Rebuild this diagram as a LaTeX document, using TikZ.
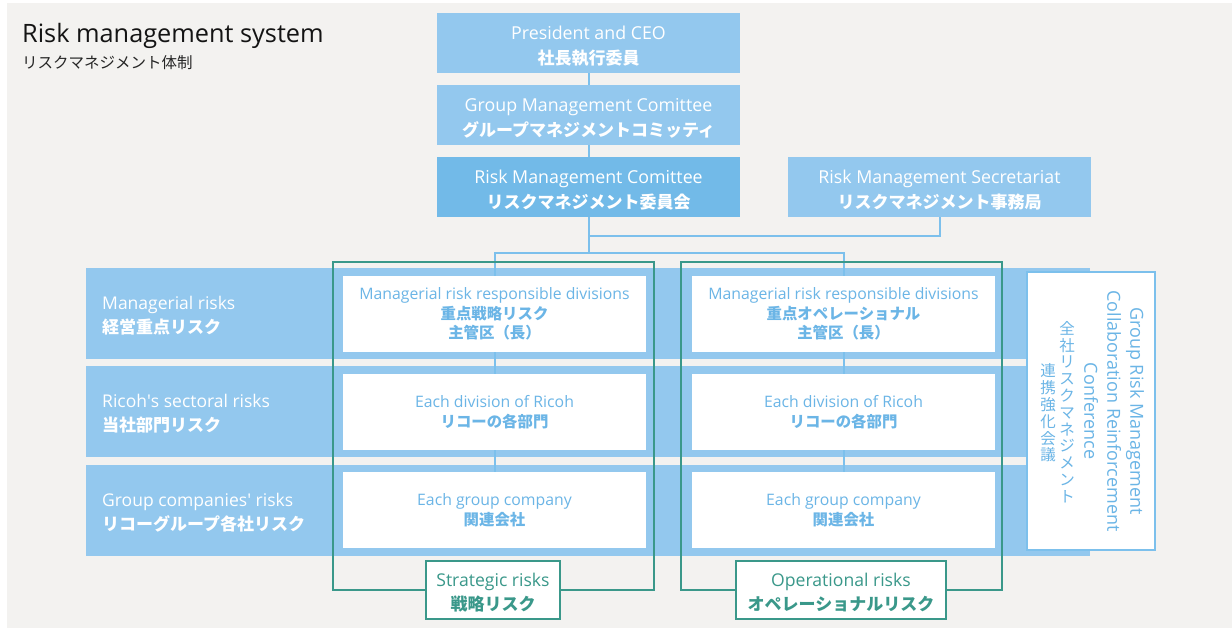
\documentclass[tikz,border=0pt]{standalone}
\usepackage{fontspec}
\setmainfont{Open Sans}
\newfontfamily\jp{Noto Sans CJK JP}
\definecolor{bg}{HTML}{F3F2F0}
\definecolor{lb}{HTML}{93C8EE}
\definecolor{db}{HTML}{72BAE8}
\definecolor{ln}{HTML}{7CC0EC}
\definecolor{tb}{HTML}{6BB5E6}
\definecolor{gr}{HTML}{3A988A}
\tikzset{
  topbox/.style={fill=lb, minimum width=303pt, minimum height=60pt, inner sep=0pt},
  toptext/.style={inner sep=0pt, text=white, align=center, font=\fontsize{17.8}{25}\selectfont},
  band/.style={fill=lb, minimum width=1004pt, minimum height=91pt, inner sep=0pt},
  rowlabel/.style={anchor=west, align=left, text=white, inner sep=0pt, font=\fontsize{17.5}{24}\selectfont},
  inbox/.style={fill=white, minimum width=303pt, minimum height=76pt, inner sep=0pt, text=tb, align=center, font=\fontsize{15.8}{19.5}\selectfont},
  gframe/.style={draw=gr, line width=2pt, minimum width=321pt, minimum height=328pt, inner sep=0pt},
  glabel/.style={draw=gr, line width=2pt, fill=white, minimum height=58pt, inner sep=0pt},
  gtext/.style={inner sep=0pt, text=gr, align=center, font=\fontsize{17.6}{23.5}\selectfont},
  conn/.style={draw=ln, line width=2pt}
}
\newcommand{\J}[2]{{\jp\bfseries\fontsize{#1}{#1}\selectfont #2}}
\begin{document}
\begin{tikzpicture}[x=1pt,y=-1pt]
\useasboundingbox (0,0) rectangle (1232,630);
\fill[white] (0,0) rectangle (1232,630);
\fill[bg] (7,3) rectangle (1232,628);

% title
\node[anchor=base west, inner sep=0pt, text=black!92, font=\fontsize{25.3}{30}\selectfont] (title) at (22,42) {Risk management system};
\node[anchor=base west, inner sep=0pt, text=black!85, font=\jp\fontsize{15.5}{18}\selectfont] (subtitle) at (22,68) {リスクマネジメント体制};

% top boxes
\node[topbox] (pres) at (588.5,43) {};
\node[topbox] (gmc) at (588.5,115) {};
\node[topbox, fill=db] (rmc) at (588.5,187) {};
\node[topbox] (sec) at (939.5,187) {};
\node[toptext] (pres-t) at ([yshift=-3.5pt]pres.center) {President and CEO\\\J{17}{社長執行委員}};
\node[toptext] (gmc-t) at ([yshift=-3.5pt]gmc.center) {Group Management Comittee\\\J{17}{グループマネジメントコミッティ}};
\node[toptext] (rmc-t) at ([yshift=-3.5pt]rmc.center) {Risk Management Comittee\\\J{17}{リスクマネジメント委員会}};
\node[toptext] (sec-t) at ([yshift=-3.5pt]sec.center) {Risk Management Secretariat\\\J{17}{リスクマネジメント事務局}};

% bands
\node[band] (r1) at (588,313.5) {};
\node[band] (r2) at (588,411.5) {};
\node[band] (r3) at (588,510.5) {};
\node[rowlabel] (l1) at ([yshift=-2pt]r1.center -| 102,0) {Managerial risks\\\J{17}{経営重点リスク}};
\node[rowlabel] (l2) at ([yshift=-2pt]r2.center -| 102,0) {Ricoh\textquotesingle s sectoral risks\\\J{17}{当社部門リスク}};
\node[rowlabel] (l3) at ([yshift=-2pt]r3.center -| 102,0) {Group companies\textquotesingle\ risks\\\J{17}{リコーグループ各社リスク}};

% connectors
\coordinate (j1) at (588.5,236);
\coordinate (j2) at (588.5,253);
\draw[conn] (pres.south) -- (gmc.north);
\draw[conn] (gmc.south) -- (rmc.north);
\draw[conn] (rmc.south) -- (j2);
\draw[conn] (j1) -| (sec.south);

% inner boxes
\node[inbox] (s1) at (494.5,314) {Managerial risk responsible divisions\\\J{15.4}{重点戦略リスク}\\\J{15.4}{主管区（長）}};
\node[inbox] (s2) at (494.5,412) {Each division of Ricoh\\\J{15.4}{リコーの各部門}};
\node[inbox] (s3) at (494.5,510) {Each group company\\\J{15.4}{関連会社}};
\node[inbox] (o1) at (843.5,314) {Managerial risk responsible divisions\\\J{15.4}{重点オペレーショナル}\\\J{15.4}{主管区（長）}};
\node[inbox] (o2) at (843.5,412) {Each division of Ricoh\\\J{15.4}{リコーの各部門}};
\node[inbox] (o3) at (843.5,510) {Each group company\\\J{15.4}{関連会社}};

\draw[conn] (j2) -| (s1.north);
\draw[conn] (j2) -| (o1.north);
\draw[conn] (s1.south) -- (s2.north);
\draw[conn] (s2.south) -- (s3.north);
\draw[conn] (o1.south) -- (o2.north);
\draw[conn] (o2.south) -- (o3.north);

% green frames
\node[gframe] (sf) at (493.5,426) {};
\node[gframe] (of) at (841,426) {};
\node[glabel, minimum width=134pt] (sl) at (493,590) {};
\node[glabel, minimum width=210pt] (ol) at (841,590) {};
\node[gtext] (sl-t) at ([yshift=-2.5pt]sl.center) {Strategic risks\\\J{17}{戦略リスク}};
\node[gtext] (ol-t) at ([yshift=-2.5pt]ol.center) {Operational risks\\\J{17}{オペレーショナルリスク}};

% conference
\node[draw=ln, line width=2pt, fill=white, minimum width=128pt, minimum height=278pt, inner sep=0pt] (conf) at (1091,411) {};
\node[rotate=-90, align=center, text=tb, inner sep=0pt, font=\fontsize{18}{23}\selectfont] (ce) at (1114,411) {Group Risk Management\\Collaboration Reinforcement\\Conference};
\node[align=center, text=tb, inner sep=0pt, font=\jp\fontsize{15.5}{16.8}\selectfont] (cj1) at (1067,412) {全\\社\\リ\\ス\\ク\\マ\\ネ\\ジ\\メ\\ン\\ト};
\node[align=center, text=tb, inner sep=0pt, font=\jp\fontsize{15.5}{16.8}\selectfont] (cj2) at (1048,413) {連\\携\\強\\化\\会\\議};
\end{tikzpicture}
\end{document}
